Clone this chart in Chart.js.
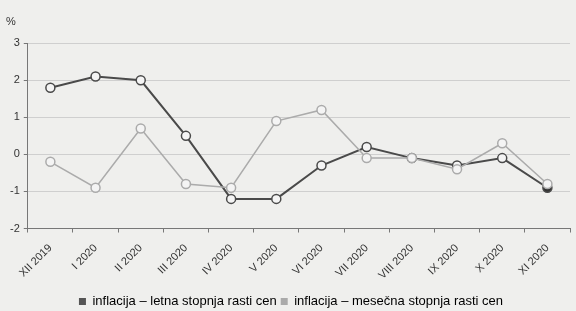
<!DOCTYPE html>
<html>
<head>
<meta charset="utf-8">
<script src="https://cdn.jsdelivr.net/npm/chart.js@4"></script>
<style>
  html, body { margin: 0; padding: 0; background: #efefed; }
  #wrap { width: 576px; height: 311px; }
</style>
</head>
<body>
<div id="wrap"><canvas id="line-chart"></canvas></div>
<script>
const months = ["XII 2019", "I 2020", "II 2020", "III 2020", "IV 2020", "V 2020", "VI 2020", "VII 2020", "VIII 2020", "IX 2020", "X 2020", "XI 2020"];
const letna = [1.8, 2.1, 2.0, 0.5, -1.2, -1.2, -0.3, 0.2, -0.1, -0.3, -0.1, -0.9];
const mesecna = [-0.2, -0.9, 0.7, -0.8, -0.9, 0.9, 1.2, -0.1, -0.1, -0.4, 0.3, -0.8];
const yTicks = [-2, -1, 0, 1, 2, 3];

const dark = '#4a4a4a';
const light = '#ababab';

const ctx = document.getElementById('line-chart');
new Chart(ctx, {
    type: 'line',
    data: {
        labels: months,
        datasets: [{
            label: "inflacija – letna stopnja rasti cen",
            data: letna,
            borderColor: dark,
            borderWidth: 2,
            pointRadius: 4.5,
            pointBorderWidth: 1.5,
            pointBorderColor: dark,
            pointBackgroundColor: letna.map((v, i) => i === letna.length - 1 ? '#333' : '#f4f4f4'),
            tension: 0
        }, {
            label: "inflacija – mesečna stopnja rasti cen",
            data: mesecna,
            borderColor: light,
            borderWidth: 1.5,
            pointRadius: 4.5,
            pointBorderWidth: 1.5,
            pointBorderColor: light,
            pointBackgroundColor: '#f4f4f4',
            tension: 0
        }].reverse()
    },
    options: {
        responsive: true,
        maintainAspectRatio: false,
        animation: false,
        layout: { padding: { left: 6, right: 0, top: 0, bottom: -7 } },
        plugins: {
            tooltip: { enabled: false },
            title: {
                display: true,
                text: '%',
                align: 'start',
                color: '#333',
                font: { family: 'Liberation Sans', size: 11, weight: 'normal' },
                padding: { top: 15, bottom: 15 }
            },
            legend: {
                position: 'bottom',
                labels: {
                    boxWidth: 7,
                    boxHeight: 7,
                    padding: 4,
                    color: '#333',
                    font: { family: 'Liberation Sans', size: 13 },
                    generateLabels: (chart) => [
                        { text: "inflacija – letna stopnja rasti cen", fillStyle: '#555', strokeStyle: '#555', lineWidth: 0, datasetIndex: 1 },
                        { text: "inflacija – mesečna stopnja rasti cen", fillStyle: '#aaa', strokeStyle: '#aaa', lineWidth: 0, datasetIndex: 0 }
                    ]
                }
            }
        },
        scales: {
            x: {
                offset: true,
                grid: { display: true, drawOnChartArea: false, drawTicks: true, tickLength: 4, color: '#777', offset: true },
                border: { color: '#777', width: 1 },
                ticks: {
                    color: '#333',
                    font: { family: 'Liberation Sans', size: 11 },
                    maxRotation: 45,
                    minRotation: 45,
                    padding: 9
                }
            },
            y: {
                min: -2,
                max: 3,
                afterBuildTicks: (axis) => { axis.ticks = yTicks.map(v => ({ value: v })); },
                grid: { color: '#cfcfcf', tickLength: 4, tickColor: '#777' },
                border: { color: '#777', width: 1 },
                ticks: {
                    color: '#333',
                    font: { family: 'Liberation Sans', size: 11 },
                    padding: 4
                }
            }
        }
    }
});
</script>
</body>
</html>
